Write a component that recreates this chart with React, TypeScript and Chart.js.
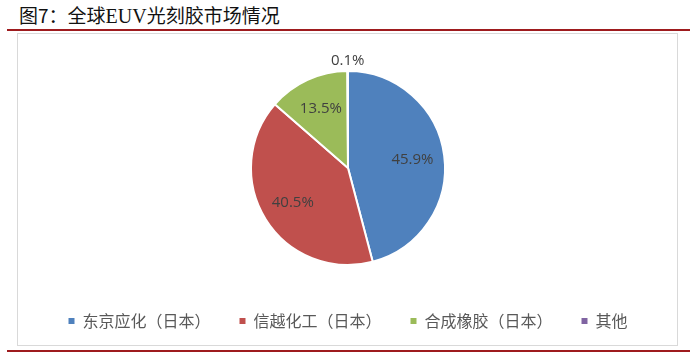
import React, { useEffect, useRef } from "react";
import { Chart, registerables } from "chart.js";

Chart.register(...registerables);

const categories = ["东京应化（日本）", "信越化工（日本）", "合成橡胶（日本）", "其他"];
const shares = [45.9, 40.5, 13.5, 0.1];
const colors = ["#4F81BD", "#C0504D", "#9BBB59", "#8064A2"];
const titleParts = ["图7：全球", "EUV", "光刻胶市场情况"];

const sliceLabelPlugin = {
  id: "sliceLabels",
  afterDatasetsDraw(chart: any) {
    const ctx = chart.ctx;
    const meta = chart.getDatasetMeta(0);
    ctx.save();
    ctx.font = '15px "Open Sans", sans-serif';
    ctx.fillStyle = "#404040";
    ctx.textAlign = "center";
    ctx.textBaseline = "middle";
    meta.data.forEach((arc: any, i: number) => {
      const p = arc.getProps(["x", "y", "startAngle", "endAngle", "outerRadius"], true);
      const mid = (p.startAngle + p.endAngle) / 2;
      const r = shares[i] < 1 ? p.outerRadius + 10 : p.outerRadius * 0.67;
      ctx.fillText(shares[i].toFixed(1) + "%", p.x + Math.cos(mid) * r, p.y + Math.sin(mid) * r);
    });
    ctx.restore();
  },
};

function PieChart() {
  const ref = useRef<HTMLCanvasElement | null>(null);
  useEffect(() => {
    if (!ref.current) return;
    const chart = new Chart(ref.current, {
      type: "pie",
      data: {
        labels: categories,
        datasets: [
          {
            data: shares,
            backgroundColor: colors,
            borderColor: "#ffffff",
            borderWidth: 2,
            radius: 97,
          } as any,
        ],
      },
      options: {
        animation: false,
        responsive: false,
        maintainAspectRatio: false,
        layout: { padding: 0 },
        plugins: {
          tooltip: { enabled: false },
          legend: {
            position: "bottom",
            align: "center",
            labels: {
              boxWidth: 6,
              boxHeight: 6,
              padding: 29,
              color: "#595959",
              font: { family: '"Noto Sans CJK SC", sans-serif', size: 16 },
              generateLabels: (c: any) => {
                const items = (Chart as any).overrides.pie.plugins.legend.labels.generateLabels(c);
                return items.map((it: any) => ({ ...it, lineWidth: 0, strokeStyle: it.fillStyle }));
              },
            },
          },
        },
      },
      plugins: [sliceLabelPlugin],
    });
    return () => chart.destroy();
  }, []);
  return (
    <canvas
      ref={ref}
      width={640}
      height={287}
      style={{ position: "absolute", left: 28, top: 52, width: 640, height: 287 }}
    />
  );
}

export default function App() {
  return (
    <div
      style={{
        position: "fixed",
        left: 0,
        top: 0,
        width: 700,
        height: 355,
        background: "#ffffff",
        overflow: "hidden",
      }}
    >
      <div
        style={{
          position: "absolute",
          left: 19,
          top: 3,
          fontFamily: '"Noto Sans CJK SC", sans-serif',
          fontSize: 19,
          lineHeight: "24px",
          color: "#111111",
          whiteSpace: "nowrap",
        }}
      >
        {titleParts[0]}
        <span style={{ fontFamily: '"Liberation Serif", serif', fontSize: 20 }}>{titleParts[1]}</span>
        {titleParts[2]}
      </div>
      <div style={{ position: "absolute", left: 7, top: 29, width: 683, height: 2, background: "#9E1B1E" }} />
      <div
        style={{
          position: "absolute",
          left: 17,
          top: 33,
          width: 661,
          height: 313,
          border: "1px solid #D9D9D9",
          boxSizing: "border-box",
        }}
      />
      <PieChart />
      <div style={{ position: "absolute", left: 7, top: 350, width: 683, height: 2, background: "#9E1B1E" }} />
    </div>
  );
}
